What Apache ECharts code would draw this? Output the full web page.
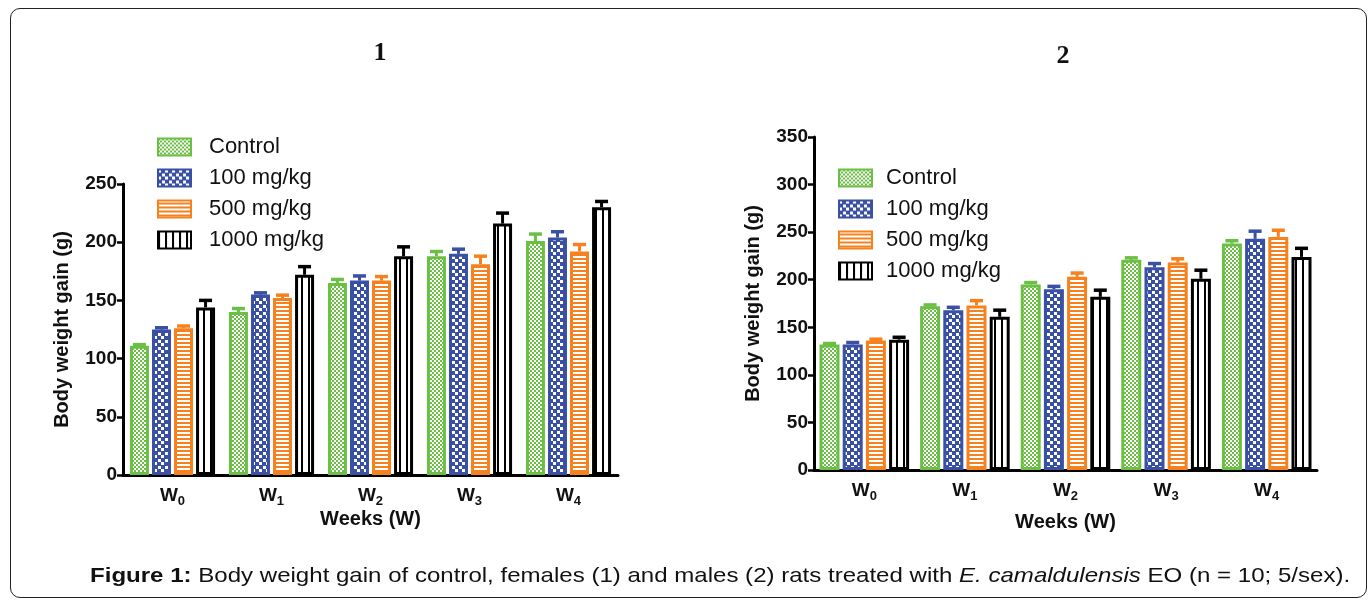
<!DOCTYPE html>
<html>
<head>
<meta charset="utf-8">
<script src="https://cdn.jsdelivr.net/npm/echarts@6/dist/echarts.min.js"></script>
<style>
  body { margin: 0; background: #fff; }
  #frame {
    position: absolute; left: 10px; top: 8px; width: 1357px; height: 590px;
    border: 1.5px solid #222; border-radius: 10px; box-sizing: border-box;
  }
  #chart { position: absolute; left: 0; top: 0; width: 1371px; height: 600px; }
  #caption {
    position: absolute; left: 90px; top: 563px; color: #111;
    font: 21px 'Liberation Sans', Arial, sans-serif; white-space: nowrap;
    transform-origin: left top;
  }
</style>
</head>
<body>
<div id="frame"></div>
<div id="chart"></div>
<div id="caption"><b>Figure 1:</b> Body weight gain of control, females (1) and males (2) rats treated with <i>E. camaldulensis</i> EO (n = 10; 5/sex).</div>
<script>
// categories
const weeks = ['0', '1', '2', '3', '4'];
const groups = ['Control', '100 mg/kg', '500 mg/kg', '1000 mg/kg'];
const ticks1 = [0, 50, 100, 150, 200, 250];
const ticks2 = [0, 50, 100, 150, 200, 250, 300, 350];

// females (1): mean and SEM
const femControl = [111, 140, 165, 188, 201];
const femControlErr = [1, 3, 3, 4, 6];
const fem100 = [125, 155, 167, 190, 204];
const fem100Err = [1.5, 1.5, 4, 4, 5];
const fem500 = [126, 152, 167, 181, 192];
const fem500Err = [2, 2.5, 3.5, 7, 6];
const fem1000 = [144, 172, 188, 216, 230];
const fem1000Err = [6, 7, 8, 9, 5];

// males (2)
const malControl = [132, 172, 195, 221, 238];
const malControlErr = [1, 1.5, 2, 2, 3];
const mal100 = [132, 168, 190, 213, 243];
const mal100Err = [2, 3, 3, 4, 8];
const mal500 = [136, 173, 203, 218, 245];
const mal500Err = [1.5, 5, 4, 4, 7];
const mal1000 = [137, 161, 182, 201, 224];
const mal1000Err = [2.5, 7, 7, 9, 9];

const colors = ['#6cbf45', '#3a50a4', '#f5821f', '#000000'];
const FONT = "'Liberation Sans', Arial, sans-serif";

function makePattern(w, h, draw) {
  const c = document.createElement('canvas');
  c.width = w; c.height = h;
  draw(c.getContext('2d'));
  return {image: c, repeat: 'repeat'};
}

const patterns = [
  makePattern(4, 4, ctx => {
    ctx.fillStyle = '#fff'; ctx.fillRect(0, 0, 4, 4);
    ctx.fillStyle = colors[0]; ctx.fillRect(0, 0, 2, 2); ctx.fillRect(2, 2, 2, 2);
  }),
  makePattern(7, 7, ctx => {
    ctx.fillStyle = colors[1]; ctx.fillRect(0, 0, 7, 7);
    ctx.fillStyle = '#fff'; ctx.fillRect(0, 0, 3, 3); ctx.fillRect(4, 4, 3, 3);
  }),
  makePattern(4, 4, ctx => {
    ctx.fillStyle = colors[2]; ctx.fillRect(0, 0, 4, 4);
    ctx.fillStyle = '#fff'; ctx.fillRect(0, 0, 4, 2);
  }),
  makePattern(7, 4, ctx => {
    ctx.fillStyle = '#fff'; ctx.fillRect(0, 0, 7, 4);
    ctx.fillStyle = '#000'; ctx.fillRect(0, 0, 2, 4);
  })
];

const BAR_W = [19, 20];
const BAR_GAP = 0.16;

function errRender(shift, color) {
  return function (params, api) {
    const i = api.value(0);
    const p0 = api.coord([i, api.value(1)]);
    const p1 = api.coord([i, api.value(1) + api.value(2)]);
    const x = p0[0] + shift;
    return {
      type: 'group',
      children: [
        {type: 'line', shape: {x1: x, y1: p0[1], x2: x, y2: p1[1] }, style: {stroke: color, lineWidth: 3}},
        {type: 'line', shape: {x1: x - 6.5, y1: p1[1], x2: x + 6.5, y2: p1[1]}, style: {stroke: color, lineWidth: 3.5}}
      ]
    };
  };
}

function buildSeries(gridIdx, means, errs) {
  const out = [];
  const w = BAR_W[gridIdx];
  means.forEach((m, s) => {
    out.push({
      name: groups[s],
      type: 'bar',
      xAxisIndex: gridIdx, yAxisIndex: gridIdx,
      barWidth: w, barGap: (BAR_GAP * 100) + '%',
      data: m,
      itemStyle: {color: patterns[s], borderColor: colors[s], borderWidth: 3},
      emphasis: {disabled: true}
    });
  });
  means.forEach((m, s) => {
    out.push({
      name: 'err' + gridIdx + s,
      type: 'custom',
      xAxisIndex: gridIdx, yAxisIndex: gridIdx,
      renderItem: errRender((s - 1.5) * w * (1 + BAR_GAP), colors[s]),
      data: m.map((v, i) => [i, v, errs[s][i]]),
      encode: {x: 0, y: 1},
      z: 3
    });
  });
  return out;
}

const xLabel = {
  formatter: v => '{w|W}{s|' + v + '}',
  margin: 11,
  rich: {
    w: {fontFamily: FONT, fontWeight: 'bold', fontSize: 19, color: '#111', verticalAlign: 'top', lineHeight: 21},
    s: {fontFamily: FONT, fontWeight: 'bold', fontSize: 13, color: '#111', verticalAlign: 'top', lineHeight: 21, padding: [9, 0, 0, 0]}
  }
};

function xAxis(gridIdx, gap) {
  return {
    type: 'category', gridIndex: gridIdx, data: weeks,
    name: 'Weeks (W)', nameLocation: 'middle', nameGap: gap,
    nameTextStyle: {fontFamily: FONT, fontWeight: 'bold', fontSize: 20, color: '#111'},
    axisLine: {lineStyle: {color: '#000', width: 3}},
    axisTick: {alignWithLabel: true, length: 8, lineStyle: {color: '#000', width: 2.5}},
    axisLabel: xLabel
  };
}

function yAxis(gridIdx, ticks, gap) {
  return {
    type: 'value', gridIndex: gridIdx,
    min: ticks[0], max: ticks[ticks.length - 1], interval: 50,
    name: 'Body weight gain (g)', nameLocation: 'middle', nameGap: gap,
    nameTextStyle: {fontFamily: FONT, fontWeight: 'bold', fontSize: 20, color: '#111'},
    axisLine: {show: true, lineStyle: {color: '#000', width: 3}},
    axisTick: {show: true, length: 6, lineStyle: {color: '#000', width: 2.5}},
    axisLabel: {fontFamily: FONT, fontWeight: 'bold', fontSize: 19, color: '#111', margin: 6},
    splitLine: {show: false}
  };
}

function legend(left, top, pad) {
  return {
    left: left, top: top, orient: 'vertical', icon: 'rect',
    itemWidth: 33, itemHeight: 17, itemGap: 9,
    data: groups, selectedMode: false,
    textStyle: {fontFamily: FONT, fontSize: 22, color: '#111', padding: [0, 0, 0, pad]}
  };
}

const chart = echarts.init(document.getElementById('chart'), null, {renderer: 'canvas'});
chart.setOption({
  animation: false,
  backgroundColor: 'transparent',
  graphic: [
    {type: 'text', x: 380, y: 53, style: {text: '1', fontFamily: "'Liberation Serif', serif", fontWeight: 'bold', fontSize: 26, fill: '#111', align: 'center', verticalAlign: 'middle'}},
    {type: 'text', x: 1063, y: 56, style: {text: '2', fontFamily: "'Liberation Serif', serif", fontWeight: 'bold', fontSize: 26, fill: '#111', align: 'center', verticalAlign: 'middle'}}
  ],
  legend: [legend(152, 131, 13), legend(833, 162, 9)],
  grid: [
    {left: 123, top: 184, width: 495, height: 291},
    {left: 814, top: 137, width: 503, height: 333}
  ],
  xAxis: [xAxis(0, 34), xAxis(1, 42)],
  yAxis: [yAxis(0, ticks1, 51), yAxis(1, ticks2, 51)],
  series: [
    ...buildSeries(0, [femControl, fem100, fem500, fem1000], [femControlErr, fem100Err, fem500Err, fem1000Err]),
    ...buildSeries(1, [malControl, mal100, mal500, mal1000], [malControlErr, mal100Err, mal500Err, mal1000Err])
  ]
});

// fit caption to the reference width
const cap = document.getElementById('caption');
cap.style.transform = 'scaleX(' + (1260 / cap.offsetWidth) + ')';
</script>
</body>
</html>
